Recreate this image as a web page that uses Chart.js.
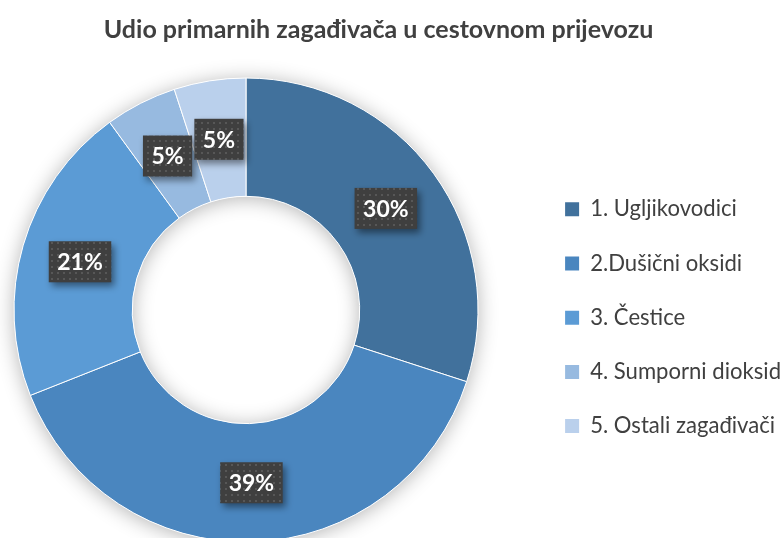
<!DOCTYPE html>
<html>
<head>
<meta charset="utf-8">
<script src="https://cdn.jsdelivr.net/npm/chart.js@4.4.1/dist/chart.umd.min.js"></script>
<style>
  html, body { margin: 0; padding: 0; background: #fff; overflow: hidden; }
  #wrap { width: 783px; height: 538px; overflow: hidden; position: relative; }
  #chart { margin-left: -41px; display: block; }
</style>
</head>
<body>
<div id="wrap"><canvas id="chart" width="832" height="560"></canvas></div>
<script>
// podaci
const kategorije = ['1. Ugljikovodici', '2.Dušični oksidi', '3. Čestice', '4. Sumporni dioksid', '5. Ostali zagađivači'];
const udjeli = [30, 39, 21, 5, 5];
const boje = ['#41719C', '#4A86BF', '#5B9BD5', '#97BAE0', '#BAD0EC'];
const naslov = 'Udio primarnih zagađivača u cestovnom prijevozu';
const pomak = 41; // platno je pomaknuto ulijevo

// uzorak za pozadinu oznaka
function napraviUzorak(ctx) {
    const p = document.createElement('canvas');
    p.width = 6; p.height = 6;
    const pc = p.getContext('2d');
    pc.fillStyle = '#3f3f3f';
    pc.fillRect(0, 0, 6, 6);
    pc.fillStyle = '#575757';
    pc.fillRect(2, 2, 2, 2);
    return ctx.createPattern(p, 'repeat');
}

// naslov malo lijevo od sredine, kao u originalu
const centrirajNaslov = {
    id: 'centrirajNaslov',
    afterLayout(chart) {
        if (chart.titleBlock) {
            chart.titleBlock.left = pomak - 13;
            chart.titleBlock.right = pomak + 770;
        }
    }
};

// sjena ispod prstena
const sjenaPrstena = {
    id: 'sjenaPrstena',
    beforeDatasetsDraw(chart) {
        const arc = chart.getDatasetMeta(0).data[0];
        if (!arc) return;
        const ctx = chart.ctx;
        ctx.save();
        ctx.shadowColor = 'rgba(0,0,0,0.3)';
        ctx.shadowBlur = 20;
        ctx.shadowOffsetY = 2;
        ctx.fillStyle = '#fff';
        ctx.beginPath();
        ctx.arc(arc.x, arc.y, arc.outerRadius, 0, Math.PI * 2);
        ctx.arc(arc.x, arc.y, arc.innerRadius, 0, Math.PI * 2, true);
        ctx.fill();
        ctx.restore();
    }
};

// oznake s postocima
const oznake = {
    id: 'oznake',
    afterDatasetsDraw(chart) {
        const ctx = chart.ctx;
        const meta = chart.getDatasetMeta(0);
        const uzorak = napraviUzorak(ctx);
        ctx.save();
        ctx.font = 'bold 23px Lato';
        ctx.textAlign = 'center';
        ctx.textBaseline = 'middle';
        meta.data.forEach((arc, i) => {
            const pos = arc.tooltipPosition();
            const tekst = udjeli[i] + '%';
            const w = ctx.measureText(tekst).width + 17;
            const h = 41;
            ctx.save();
            ctx.shadowColor = 'rgba(0,0,0,0.45)';
            ctx.shadowBlur = 7;
            ctx.shadowOffsetX = 3;
            ctx.shadowOffsetY = 4;
            ctx.fillStyle = uzorak;
            ctx.fillRect(pos.x - w / 2, pos.y - h / 2, w, h);
            ctx.restore();
            ctx.fillStyle = '#fff';
            ctx.fillText(tekst, pos.x, pos.y + 1);
        });
        ctx.restore();
    }
};

const ctx = document.getElementById('chart').getContext('2d');
new Chart(ctx, {
    type: 'doughnut',
    data: {
        labels: kategorije,
        datasets: [{
            data: udjeli,
            backgroundColor: boje,
            borderColor: '#fff',
            borderWidth: 1,
            hoverOffset: 0
        }]
    },
    options: {
        responsive: false,
        devicePixelRatio: 1,
        animation: false,
        cutout: '49%',
        layout: {
            padding: { left: 0, right: 0, top: 0, bottom: 17.5 }
        },
        plugins: {
            title: {
                display: true,
                text: naslov,
                color: '#404040',
                font: { family: 'Lato', size: 25, weight: 'bold' },
                padding: { top: 15, bottom: 32.5 }
            },
            legend: {
                position: 'right',
                fullSize: false,
                title: { display: true, text: ' ', padding: 0, font: { size: 11, lineHeight: 1.4 } },
                labels: {
                    color: '#404040',
                    font: { family: 'Lato', size: 22.1 },
                    boxWidth: 14,
                    boxHeight: 14,
                    padding: 32.1,
                    generateLabels(chart) {
                        return Chart.controllers.doughnut.overrides.plugins.legend.labels.generateLabels(chart)
                            .map(l => Object.assign(l, { lineWidth: 0 }));
                    }
                }
            },
            tooltip: { enabled: false }
        }
    },
    plugins: [centrirajNaslov, sjenaPrstena, oznake]
});
</script>
</body>
</html>
